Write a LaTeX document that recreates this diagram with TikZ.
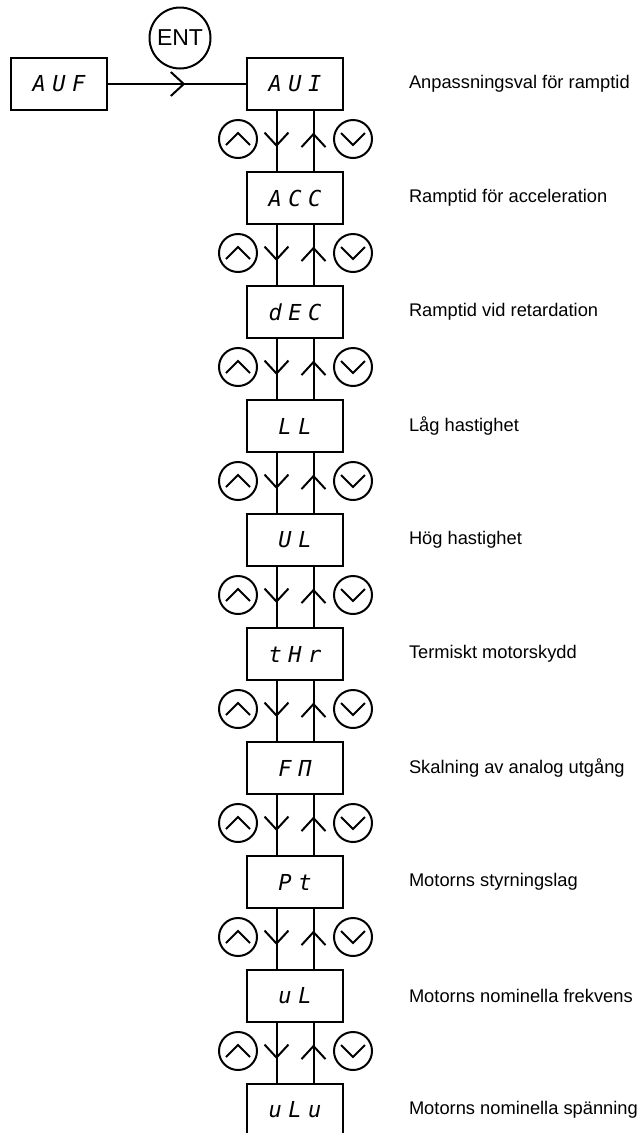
\documentclass[tikz,border=0pt]{standalone}
\usepackage{fontspec}
\setmainfont{Liberation Sans}
\newfontfamily\segfont[LetterSpace=30]{DejaVu Sans Mono Oblique}
\usetikzlibrary{arrows.meta,positioning,calc,decorations.markings}

\begin{document}
\begin{tikzpicture}[x=1pt, y=-1pt,
  node distance=60pt,
  line width=2pt,
  box/.style={draw, minimum width=96pt, minimum height=52pt, inner sep=0pt, font=\fontsize{22}{24}\segfont},
  lbl/.style={font=\fontsize{18.3}{22}\selectfont, inner sep=0pt, anchor=west},
  key/.style={draw, circle, minimum size=38pt, inner sep=0pt},
  midarr/.style={decoration={markings, mark=at position #1 with {\arrow{Straight Barb[length=13pt,width=24pt]}}}, postaction={decorate}},
  midarr/.default=0.6]
\useasboundingbox (0,0) rectangle (639,1133);
\node[box] (aui) at (295,84) {AUI};
\node[box, left=138pt of aui] (auf) {AUF};
\node[key, minimum size=61pt, font=\fontsize{23}{23}\selectfont] (ent) at (180,38) {ENT};
\node[box, below=of aui] (acc) {ACC};
\node[box, below=of acc] (dec) {dEC};
\node[box, below=of dec] (ll) {LL};
\node[box, below=of ll] (ul) {UL};
\node[box, below=of ul] (thr) {tHr};
\node[box, below=of thr] (fm) {FΠ};
\node[box, below=of fm] (pt) {Pt};
\node[box, below=of pt] (nfr) {uL};
\node[box, below=of nfr] (nvo) {uLu};
\draw[midarr=0.56] (auf) -- (aui);
% descriptions to the right
\foreach \n/\t in {aui/Anpassningsval för ramptid, acc/Ramptid för acceleration,
  dec/Ramptid vid retardation, ll/Låg hastighet, ul/Hög hastighet,
  thr/Termiskt motorskydd, fm/Skalning av analog utgång, pt/Motorns styrningslag,
  nfr/Motorns nominella frekvens, nvo/Motorns nominella spänning}
  \node[lbl, right=64pt of \n] (\n-txt) {\t};
% up/down keys between the menus
\foreach \a/\b [count=\i] in {aui/acc,acc/dec,dec/ll,ll/ul,ul/thr,thr/fm,fm/pt,pt/nfr,nfr/nvo} {
  \draw[midarr] ([xshift=-18.5pt]\a.south) -- ([xshift=-18.5pt]\b.north);
  \draw[midarr=0.64] ([xshift=18.5pt]\b.north) -- ([xshift=18.5pt]\a.south);
  \node[key] (up\i) at ($(\a.south)!0.5!(\b.north)+(-57,-2)$) {};
  \node[key] (dn\i) at ($(\a.south)!0.5!(\b.north)+(58,-2)$) {};
  \draw (up\i.center) ++(-12,6) -- ++(12,-12) -- ++(12,12);
  \draw (dn\i.center) ++(-12,-6) -- ++(12,12) -- ++(12,-12);
}
\end{tikzpicture}
\end{document}
